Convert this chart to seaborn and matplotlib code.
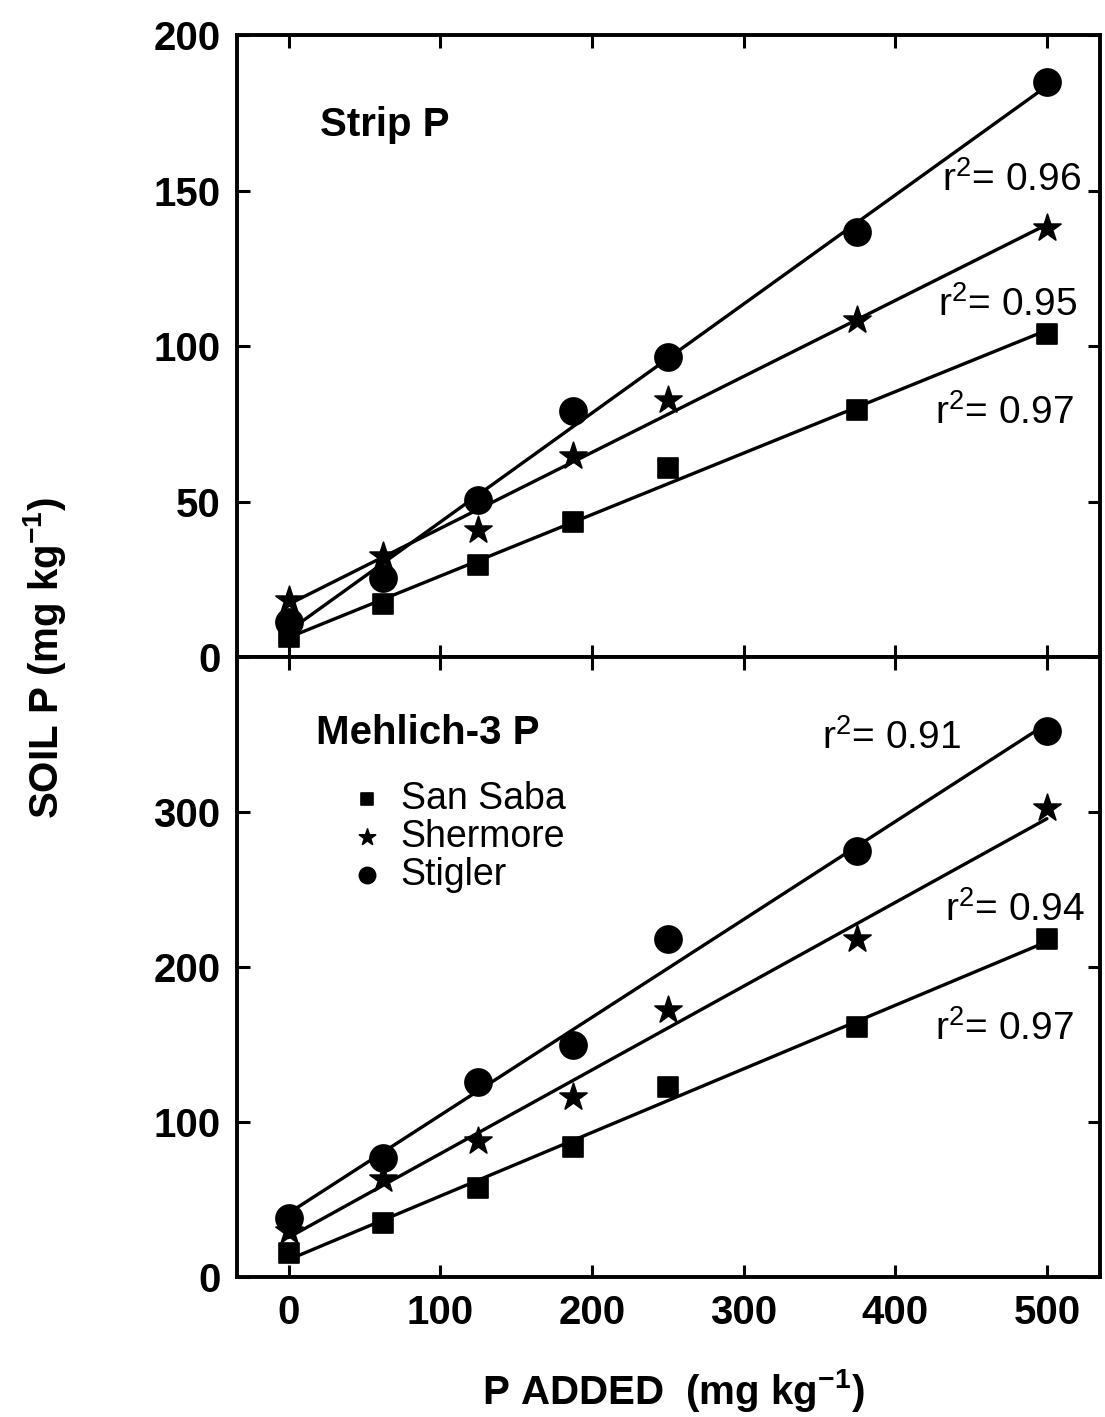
import matplotlib
matplotlib.use("Agg")
import matplotlib.pyplot as plt
import pandas as pd
import seaborn as sns

# values
p_added = [0, 62.5, 125, 187.5, 250, 375, 500]
soils = ["San Saba", "Shermore", "Stigler"]
markers = ["s", "*", "o"]
marker_sizes = [190, 420, 380]

strip_san_saba = [6.4, 17.0, 29.6, 43.4, 60.8, 79.4, 103.8]
strip_shermore = [18.3, 32.5, 40.8, 64.6, 82.6, 108.3, 137.9]
strip_stigler = [11.3, 25.4, 50.5, 79.1, 96.4, 136.6, 184.9]

m3_san_saba = [15.6, 35.0, 57.7, 84.0, 122.5, 161.0, 218.0]
m3_shermore = [30.0, 63.0, 87.5, 116.0, 172.0, 218.0, 302.6]
m3_stigler = [38.0, 76.5, 125.7, 150.0, 218.0, 275.0, 352.6]

strip_r2 = ["0.97", "0.95", "0.96"]
m3_r2 = ["0.97", "0.94", "0.91"]

sns.set_style("ticks")
plt.rcParams["font.family"] = ["Liberation Sans", "DejaVu Sans"]
plt.rcParams["mathtext.default"] = "regular"
for key in ["text.color", "axes.labelcolor", "xtick.color", "ytick.color",
            "axes.edgecolor"]:
    plt.rcParams[key] = "black"


def make_frame(series):
    rows = []
    for soil, vals in zip(soils, series):
        for x, y in zip(p_added, vals):
            rows.append({"P added": x, "Soil P": y, "Soil": soil})
    return pd.DataFrame(rows)


strip_df = make_frame([strip_san_saba, strip_shermore, strip_stigler])
m3_df = make_frame([m3_san_saba, m3_shermore, m3_stigler])

fig = plt.figure(figsize=(11.05, 14.17), dpi=100)
ax_top = fig.add_axes([0.2145, 0.5363, 0.781, 0.439])
ax_bot = fig.add_axes([0.2145, 0.0988, 0.781, 0.4375])


def draw_panel(ax, df):
    for soil, mk, ms in zip(soils, markers, marker_sizes):
        sub = df[df["Soil"] == soil]
        sns.regplot(
            data=sub, x="P added", y="Soil P", ax=ax, ci=None,
            marker=mk, label=soil,
            scatter_kws={"s": ms, "color": "black", "edgecolor": "black",
                         "linewidths": 1.2, "alpha": 1},
            line_kws={"color": "black", "lw": 2.4},
        )
    ax.set_xlim(-34, 535)
    ax.set_xlabel("")
    ax.set_ylabel("")
    ax.tick_params(direction="in", length=9, width=2.2, top=True, right=True,
                   labelsize=29, pad=12, colors="black")
    for sp in ax.spines.values():
        sp.set_linewidth(2.8)
        sp.set_color("black")


draw_panel(ax_top, strip_df)
draw_panel(ax_bot, m3_df)

xt = [0, 100, 200, 300, 400, 500]
ax_top.set_xticks(xt)
ax_top.set_xticklabels([])
ax_top.set_ylim(0, 200)
ax_top.set_yticks([0, 50, 100, 150, 200])
ax_top.set_yticklabels(["0", "50", "100", "150", "200"], fontweight="bold", fontsize=29)

ax_bot.set_xticks(xt)
ax_bot.set_xticklabels([str(v) for v in xt], fontweight="bold", fontsize=29)
ax_bot.set_ylim(0, 400)
ax_bot.set_yticks([0, 100, 200, 300, 400])
ax_bot.set_yticklabels(["0", "100", "200", "300", ""], fontweight="bold", fontsize=29)

# panel titles
ax_top.text(21, 171, "Strip P", fontsize=29, fontweight="bold", va="center")
ax_bot.text(18, 351, "Mehlich-3 P", fontsize=29, fontweight="bold", va="center")

# r-squared notes
for (x, y), r2 in zip([(426, 78.4), (428, 113.2), (431, 153.4)], strip_r2):
    ax_top.text(x, y, "r$^2$= " + r2, fontsize=28, va="center", ha="left")
for (x, y), r2 in zip([(426, 160), (433, 236.5), (352, 348)], m3_r2):
    ax_bot.text(x, y, "r$^2$= " + r2, fontsize=28, va="center", ha="left")

leg = ax_bot.legend(loc="upper left", bbox_to_anchor=(0.133, 0.80), frameon=False,
                    fontsize=27, markerscale=0.6, handlelength=0.8, handletextpad=0.5,
                    labelspacing=0.05, borderaxespad=0, borderpad=0)
for t in leg.get_texts():
    t.set_color("black")

fig.text(0.04, 0.536, "SOIL P (mg kg$^{-1}$)", rotation=90, fontsize=29,
         fontweight="bold", ha="center", va="center")
fig.text(0.609, 0.019, "P ADDED  (mg kg$^{-1}$)", fontsize=29,
         fontweight="bold", ha="center", va="center")

fig.savefig("out.png", dpi=100, facecolor="white")
